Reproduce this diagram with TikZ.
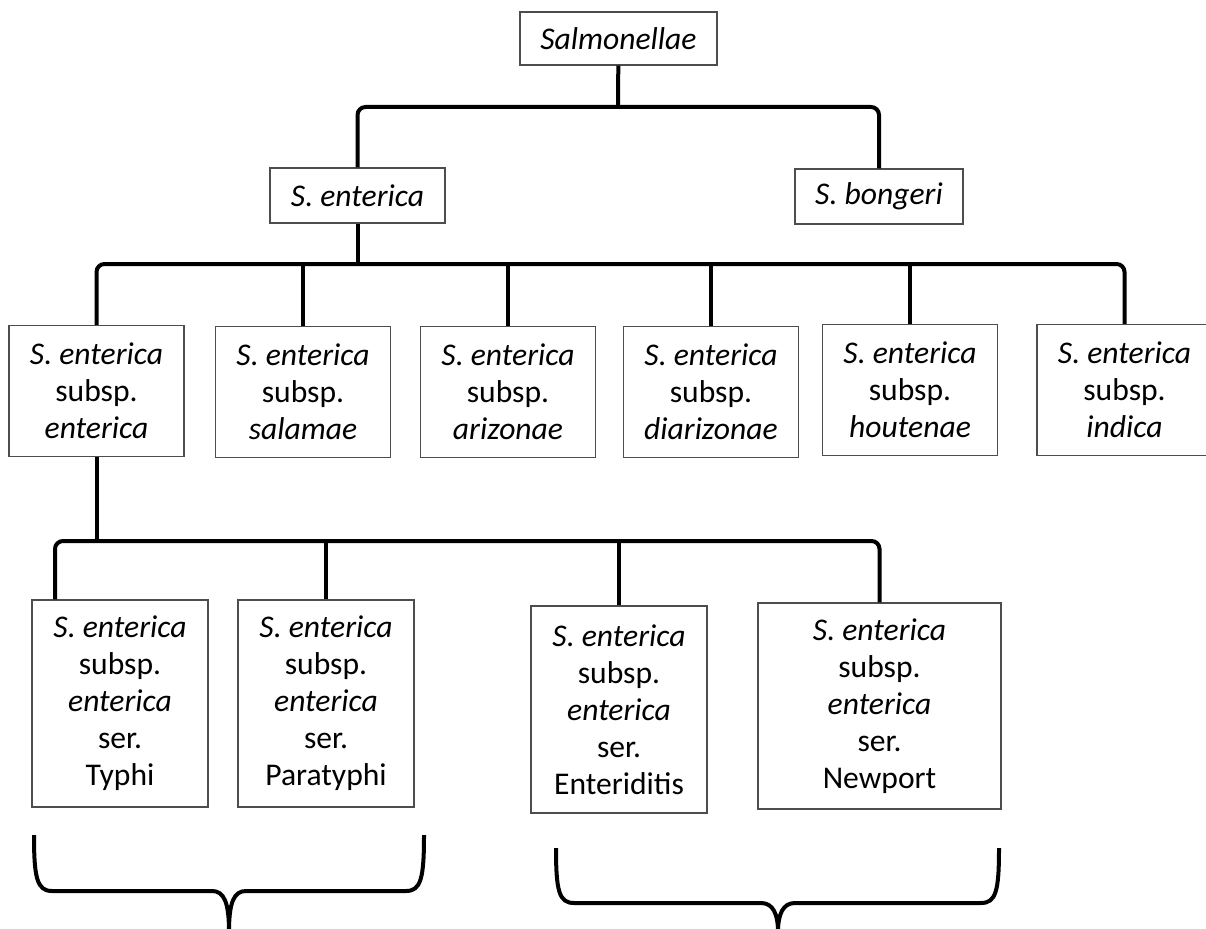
\documentclass[tikz,border=0pt]{standalone}
\usepackage{fontspec}
\setmainfont{Carlito}
\usepackage{xcolor}
\definecolor{boxgray}{HTML}{4D4D4D}
\definecolor{treeblack}{HTML}{000000}

\begin{document}
\begin{tikzpicture}[
  x=1pt, y=-1pt,
  taxon/.style={rectangle, draw=boxgray, line width=1.3pt, minimum width=175pt, inner sep=0pt, align=center, font=\fontsize{31.6}{37}\selectfont},
  branch/.style={draw=treeblack, line width=4pt, rounded corners=8pt},
  brace/.style={draw=treeblack, line width=4pt, line join=round}
]
  \useasboundingbox (0,0) rectangle (1206,928);
  % genus and species
  \node[taxon, minimum width=197pt, minimum height=53pt] (salm) at (618.5,38.5) {\textit{Salmonellae}};
  \node[taxon, minimum height=55pt] (ent) at (357.5,195.5) {\textit{S. enterica}};
  \node[taxon, minimum width=168pt, minimum height=55pt] (bon) at (879,196.5) {\textit{S. bongeri}};
  % subspecies
  \node[taxon, minimum height=131pt] (b1) at (96.5,391) {\textit{S. enterica}\\subsp.\\\textit{enterica}};
  \node[taxon, minimum height=131pt] (b2) at (303,392) {\textit{S. enterica}\\subsp.\\\textit{salamae}};
  \node[taxon, minimum height=131pt] (b3) at (508,392) {\textit{S. enterica}\\subsp.\\\textit{arizonae}};
  \node[taxon, minimum height=131pt] (b4) at (711,392) {\textit{S. enterica}\\subsp.\\\textit{diarizonae}};
  \node[taxon, minimum height=131pt] (b5) at (910,390) {\textit{S. enterica}\\subsp.\\\textit{houtenae}};
  \node[taxon, minimum height=131pt] (b6) at (1124.5,390) {\textit{S. enterica}\\subsp.\\\textit{indica}};
  % serovars
  \node[taxon, minimum width=176pt, minimum height=207pt] (typhi) at (120,703.5) {\textit{S. enterica}\\subsp.\\\textit{enterica}\\ser.\\Typhi};
  \node[taxon, minimum width=176pt, minimum height=207pt] (para) at (326,703.5) {\textit{S. enterica}\\subsp.\\\textit{enterica}\\ser.\\Paratyphi};
  \node[taxon, minimum width=176pt, minimum height=207pt] (enter) at (619,709.5) {\textit{S. enterica}\\subsp.\\\textit{enterica}\\ser.\\Enteriditis};
  \node[taxon, minimum width=243pt, minimum height=206pt] (newp) at (879.5,706) {\textit{S. enterica}\\subsp.\\\textit{enterica}\\ser.\\Newport};
  \coordinate (j1) at (618,107);
  \coordinate (j2) at (357.5,264);
  \coordinate (j3) at (96.5,541);
  % tree
  \draw[branch] (salm) -- (j1);
  \draw[branch] (ent.north) |- (j1) -| (bon.north);
  \draw[branch] (ent) -- (j2);
  \draw[branch] (b1.north) |- (j2) -| (b6.north);
  \foreach \b in {b2,b3,b4,b5}
    \draw[branch] (\b.north) -- (\b.north |- j2);
  \draw[branch] (b1) -- (j3);
  \draw[branch] ([xshift=-65pt]typhi.north) |- (j3) -| (newp.north);
  \foreach \b in {para,enter}
    \draw[branch] (\b.north) -- (\b.north |- j3);
  % braces
  \draw[brace] (34,835) .. controls (34,878) and (37,891) .. (52,891) -- (212,891)
    .. controls (224,891) and (229,902) .. (229,932) .. controls (229,902) and (234,891) .. (246,891)
    -- (406,891) .. controls (421,891) and (424,878) .. (424,835);
  \draw[brace] (556,848) .. controls (556,891) and (559,903) .. (574,903) -- (761,903)
    .. controls (773,903) and (778,914) .. (778,932) .. controls (778,914) and (783,903) .. (795,903)
    -- (981,903) .. controls (996,903) and (999,891) .. (999,848);
\end{tikzpicture}
\end{document}
